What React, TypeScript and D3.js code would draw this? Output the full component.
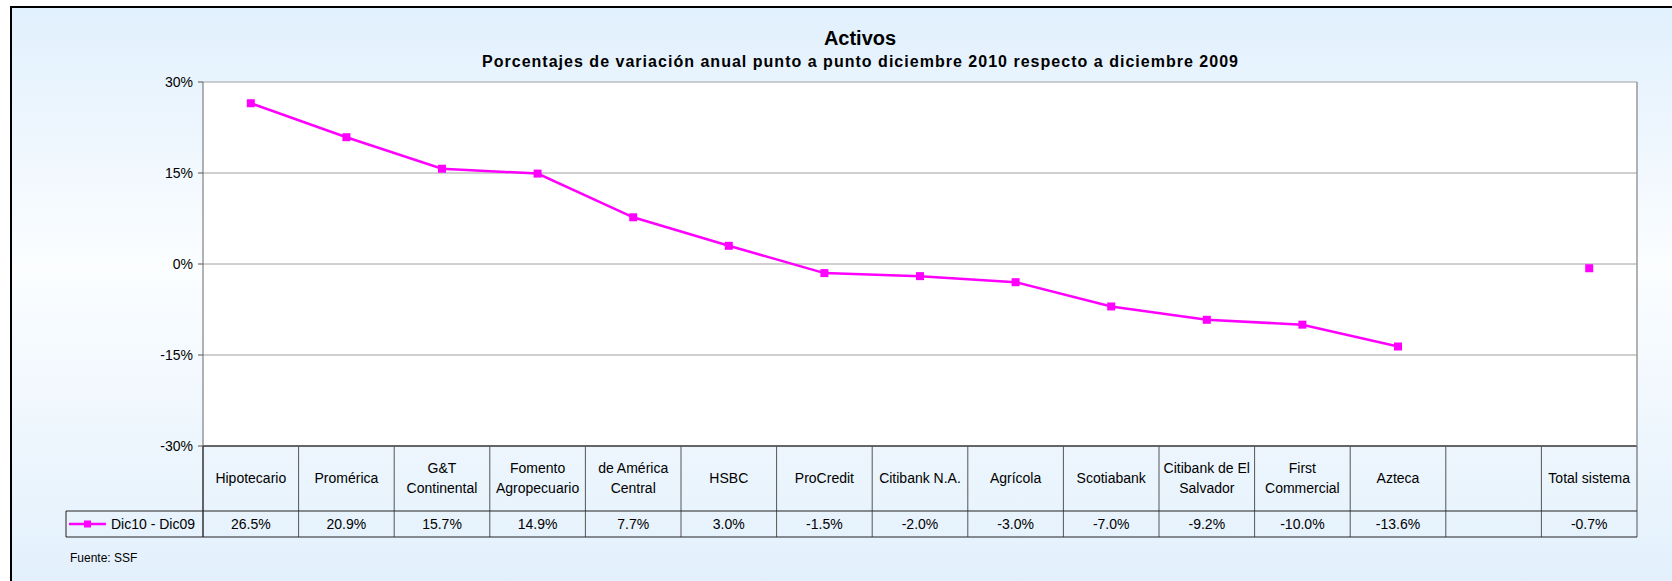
// @ts-nocheck
import React from 'react';
import * as d3 from 'd3';

// chart data
const categories = [
    'Hipotecario', 'Promérica', 'G&T\nContinental', 'Fomento\nAgropecuario', 'de América\nCentral',
    'HSBC', 'ProCredit', 'Citibank N.A.', 'Agrícola', 'Scotiabank', 'Citibank de El\nSalvador',
    'First\nCommercial', 'Azteca', '', 'Total sistema'
];
const values = [26.5, 20.9, 15.7, 14.9, 7.7, 3.0, -1.5, -2.0, -3.0, -7.0, -9.2, -10.0, -13.6, null, -0.7];
const yTicks = [30, 15, 0, -15, -30];
const seriesName = 'Dic10 - Dic09';
const title = 'Activos';
const subtitle = 'Porcentajes de variación anual punto a punto diciembre 2010 respecto a diciembre 2009';
const source = 'Fuente: SSF';

const W = 1672, H = 581;
const plot = { left: 203, right: 1637, top: 82, bottom: 446 };
const rowCat = 511, rowVal = 537, legendLeft = 66;
const MAGENTA = '#ff00ff';
const font = '"Liberation Sans", Arial, sans-serif';

export default function App() {
    const x = d3.scaleBand().domain(categories).range([plot.left, plot.right]);
    const y = d3.scaleLinear().domain([-30, 30]).range([plot.bottom, plot.top]);
    const cx = (c) => x(c) + x.bandwidth() / 2;

    const pts = categories.map((c, i) => ({ c, v: values[i] }));
    const line = d3.line()
        .defined(d => d.v !== null)
        .x(d => cx(d.c))
        .y(d => y(d.v));

    const valMid = (rowCat + rowVal) / 2;

    return (
        <svg width={W} height={H} style={{ position: 'absolute', left: 0, top: 0 }} fontFamily={font}>
            <defs>
                <linearGradient id="bg" x1="0" y1="0" x2="0" y2="1">
                    <stop offset="0" stopColor="#e1f0fd" />
                    <stop offset="0.45" stopColor="#fbfdff" />
                    <stop offset="1" stopColor="#e2f0fc" />
                </linearGradient>
            </defs>
            <rect x={11} y={7} width={W} height={H} fill="url(#bg)" stroke="#000" strokeWidth={2} />

            {/* titles */}
            <text x={860} y={45} textAnchor="middle" fontSize={20} fontWeight="bold" fill="#000">{title}</text>
            <text x={860} y={67} textAnchor="middle" fontSize={16} fontWeight="bold" fill="#000"
                textLength={756} lengthAdjust="spacing">{subtitle}</text>

            {/* plot area */}
            <rect x={plot.left} y={plot.top} width={plot.right - plot.left} height={plot.bottom - plot.top} fill="#fff" />
            {yTicks.map(t => (
                <g key={t}>
                    <line x1={plot.left} x2={plot.right} y1={y(t)} y2={y(t)} stroke={t === -30 ? '#333' : '#a0a0a0'} strokeWidth={t === -30 ? 1.5 : 1} />
                    <line x1={plot.left - 5} x2={plot.left} y1={y(t)} y2={y(t)} stroke="#555" />
                    <text x={plot.left - 10} y={y(t)} dy="0.35em" textAnchor="end" fontSize={14} fill="#000">{t}%</text>
                </g>
            ))}
            <line x1={plot.right} x2={plot.right} y1={plot.top} y2={plot.bottom} stroke="#999" strokeWidth={1.5} />
            <line x1={plot.left} x2={plot.left} y1={plot.top} y2={plot.bottom} stroke="#666" />

            {/* series */}
            <path d={line(pts)} fill="none" stroke={MAGENTA} strokeWidth={2.5} />
            {pts.filter(d => d.v !== null).map(d => (
                <rect key={d.c} x={cx(d.c) - 4} y={y(d.v) - 4} width={8} height={8} fill={MAGENTA} />
            ))}

            {/* data table */}
            <g stroke="#555" strokeWidth={1} fill="none">
                {categories.map(c => (
                    <line key={c} x1={x(c)} x2={x(c)} y1={plot.bottom} y2={rowVal} />
                ))}
                <line x1={plot.right} x2={plot.right} y1={plot.bottom} y2={rowVal} />
                <line x1={legendLeft} x2={plot.right} y1={rowCat} y2={rowCat} stroke="#222" />
                <line x1={legendLeft} x2={plot.right} y1={rowVal} y2={rowVal} stroke="#222" />
                <line x1={legendLeft} x2={legendLeft} y1={rowCat} y2={rowVal} stroke="#222" />
                <line x1={plot.left} x2={plot.left} y1={plot.bottom} y2={rowVal} stroke="#222" />
            </g>
            {categories.map(c => {
                const lines = c.split('\n');
                const mid = (plot.bottom + rowCat) / 2;
                return (
                    <text key={c} textAnchor="middle" fontSize={14} fill="#000">
                        {lines.map((l, j) => (
                            <tspan key={j} x={cx(c)} y={mid + (j - (lines.length - 1) / 2) * 20} dy="0.35em">{l}</tspan>
                        ))}
                    </text>
                );
            })}
            {pts.map(d => d.v === null ? null : (
                <text key={d.c} x={cx(d.c)} y={valMid} dy="0.35em" textAnchor="middle" fontSize={14} fill="#000">
                    {d.v.toFixed(1)}%
                </text>
            ))}

            {/* legend key */}
            <line x1={legendLeft + 3} x2={legendLeft + 40} y1={valMid} y2={valMid} stroke={MAGENTA} strokeWidth={2.5} />
            <rect x={legendLeft + 18} y={valMid - 3.5} width={7} height={7} fill={MAGENTA} />
            <text x={legendLeft + 45} y={valMid} dy="0.35em" fontSize={14} fill="#000">{seriesName}</text>

            <text x={70} y={562} fontSize={12} fill="#000">{source}</text>
        </svg>
    );
}
